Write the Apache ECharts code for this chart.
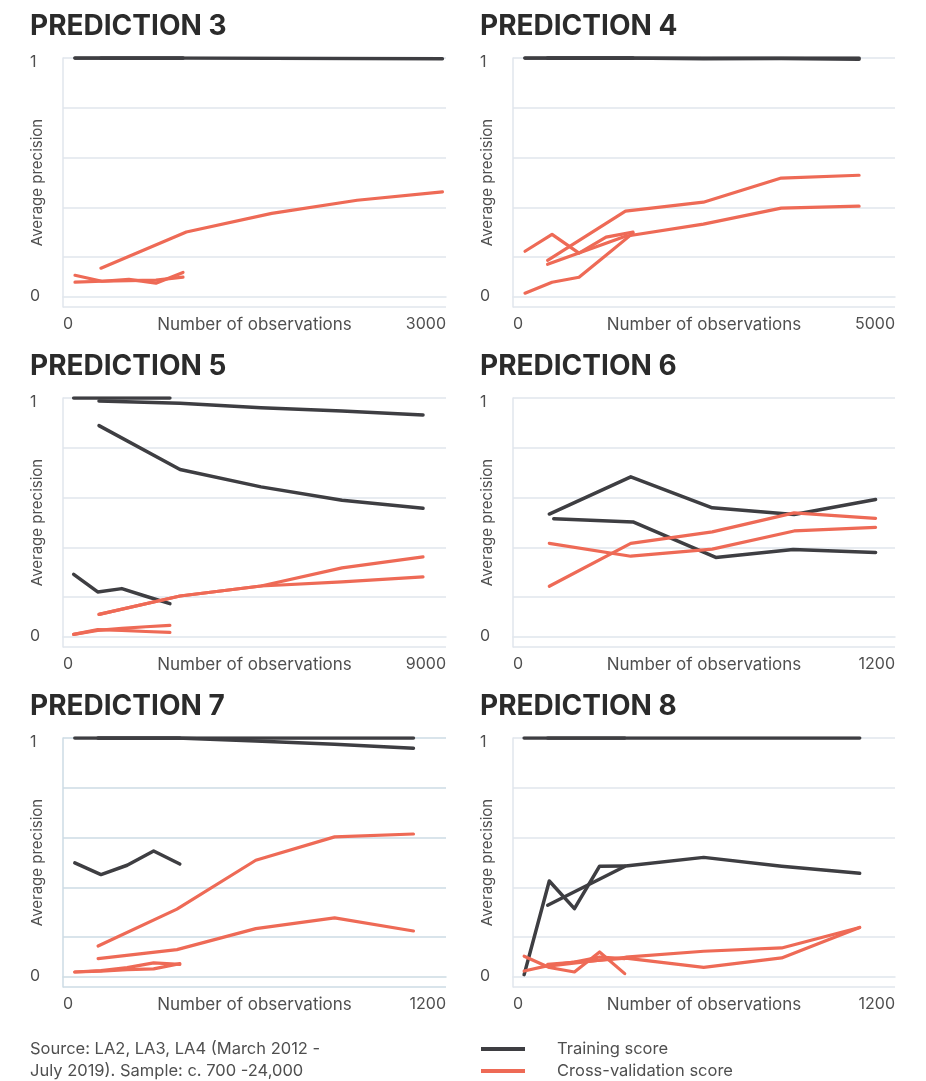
<!DOCTYPE html>
<html>
<head>
<meta charset="utf-8">
<title>Learning curves</title>
<script src="https://cdn.jsdelivr.net/npm/echarts@6/dist/echarts.min.js"></script>
<style>
  html, body { margin: 0; padding: 0; background: #fff; }
  #chart { width: 926px; height: 1081px; }
</style>
</head>
<body>
<div id="chart"></div>
<script>
// --- data: x = number of observations, y = average precision ---

// Prediction 3
const p3SmallX = [94, 305, 516, 728, 940];
const p3LargeX = [297, 966, 1635, 2304, 2972];
const p3TrainSmallA = [1, 1, 1, 1, 1];
const p3TrainSmallB = [1, 1, 1, 1, 1];
const p3TrainLarge = [1, 1, 0.999, 0.998, 0.997];
const p3CvSmallA = [0.088, 0.063, 0.071, 0.055, 0.1];
const p3CvSmallB = [0.059, 0.063, 0.066, 0.068, 0.08];
const p3CvLarge = [0.118, 0.27, 0.348, 0.403, 0.438];

// Prediction 4
const p4SmallX = [157, 511, 864, 1218, 1571];
const p4LargeX = [453, 1472, 2492, 3511, 4530];
const p4TrainSmallA = [1, 1, 1, 1, 1];
const p4TrainSmallB = [1, 1, 1, 1, 1];
const p4TrainLargeA = [1, 1, 1, 1, 1];
const p4TrainLargeB = [1, 1, 0.997, 0.998, 0.995];
const p4CvSmallA = [0.189, 0.26, 0.181, 0.248, 0.269];
const p4CvSmallB = [0.013, 0.059, 0.08, 0.172, 0.265];
const p4CvLargeA = [0.151, 0.357, 0.395, 0.496, 0.508];
const p4CvLargeB = [0.134, 0.252, 0.303, 0.37, 0.378];

// Prediction 5
const p5SmallX = [251, 816, 1382, 1947, 2512];
const p5LargeX = [846, 2750, 4653, 6557, 8460];
const p5TrainSmallA = [1, 1, 1, 1, 1];
const p5TrainSmallB = [0.26, 0.186, 0.2, 0.168, 0.137];
const p5TrainLargeA = [0.987, 0.978, 0.959, 0.945, 0.929];
const p5TrainLargeB = [0.884, 0.7, 0.627, 0.571, 0.537];
const p5CvSmallA = [0.008, 0.025, 0.033, 0.04, 0.046];
const p5CvSmallB = [0.008, 0.028, 0.025, 0.02, 0.016];
const p5CvLargeA = [0.092, 0.169, 0.211, 0.287, 0.333];
const p5CvLargeB = [0.092, 0.169, 0.211, 0.228, 0.249];

// Prediction 6
const p6XA = [114, 370, 626, 883, 1139];
const p6XB = [128, 377, 637, 880, 1139];
const p6TrainA = [0.513, 0.669, 0.539, 0.511, 0.574];
const p6TrainB = [0.493, 0.48, 0.331, 0.364, 0.352];
const p6CvA = [0.39, 0.336, 0.366, 0.442, 0.457];
const p6CvB = [0.21, 0.39, 0.438, 0.518, 0.495];

// Prediction 7
const p7SmallX = [37, 119, 201, 284, 366];
const p7LargeX = [110, 357, 604, 851, 1098];
const p7TrainSmallA = [1, 1, 1, 1, 1];
const p7TrainSmallB = [0.476, 0.427, 0.466, 0.526, 0.471];
const p7TrainLargeA = [1, 1, 1, 1, 1];
const p7TrainLargeB = [1, 1, 0.987, 0.974, 0.957];
const p7CvSmallA = [0.018, 0.024, 0.036, 0.056, 0.05];
const p7CvSmallB = [0.018, 0.022, 0.028, 0.031, 0.053];
const p7CvLargeA = [0.127, 0.282, 0.487, 0.585, 0.597];
const p7CvLargeB = [0.074, 0.112, 0.2, 0.245, 0.19];

// Prediction 8
const p8SmallX = [35, 114, 193, 272, 351];
const p8LargeX = [109, 354, 599, 844, 1089];
const p8TrainSmallA = [1, 1, 1, 1, 1];
const p8TrainSmallB = [0.007, 0.4, 0.284, 0.462, 0.463];
const p8TrainLargeA = [1, 1, 1, 1, 1];
const p8TrainLargeB = [0.298, 0.463, 0.499, 0.462, 0.432];
const p8CvSmallA = [0.084, 0.037, 0.018, 0.102, 0.011];
const p8CvSmallB = [0.022, 0.046, 0.06, 0.081, 0.074];
const p8CvLargeA = [0.05, 0.076, 0.037, 0.077, 0.205];
const p8CvLargeB = [0.042, 0.08, 0.105, 0.119, 0.205];

const panelTitles = ['PREDICTION 3', 'PREDICTION 4', 'PREDICTION 5', 'PREDICTION 6', 'PREDICTION 7', 'PREDICTION 8'];
const xMaxes = [3000, 5000, 9000, 1200, 1200, 1200];
const yLabelValues = [0, 1];
const yGridValues = [-0.045, 0.164, 0.373, 0.582, 0.791, 1];

const TRAIN = 'Training score';
const CV = 'Cross-validation score';
const BLACK = '#3e3e42';
const ORANGE = '#ee6a56';
const TEXT = '#4f4f4f';
const FONT = 'Inter, Roboto, sans-serif';

// [panel, name, xs, ys]
const curves = [
  [0, TRAIN, p3SmallX, p3TrainSmallA], [0, TRAIN, p3SmallX, p3TrainSmallB], [0, TRAIN, p3LargeX, p3TrainLarge],
  [0, CV, p3SmallX, p3CvSmallA], [0, CV, p3SmallX, p3CvSmallB], [0, CV, p3LargeX, p3CvLarge],

  [1, TRAIN, p4SmallX, p4TrainSmallA], [1, TRAIN, p4SmallX, p4TrainSmallB],
  [1, TRAIN, p4LargeX, p4TrainLargeA], [1, TRAIN, p4LargeX, p4TrainLargeB],
  [1, CV, p4SmallX, p4CvSmallA], [1, CV, p4SmallX, p4CvSmallB],
  [1, CV, p4LargeX, p4CvLargeA], [1, CV, p4LargeX, p4CvLargeB],

  [2, TRAIN, p5SmallX, p5TrainSmallA], [2, TRAIN, p5SmallX, p5TrainSmallB],
  [2, TRAIN, p5LargeX, p5TrainLargeA], [2, TRAIN, p5LargeX, p5TrainLargeB],
  [2, CV, p5SmallX, p5CvSmallA], [2, CV, p5SmallX, p5CvSmallB],
  [2, CV, p5LargeX, p5CvLargeA], [2, CV, p5LargeX, p5CvLargeB],

  [3, TRAIN, p6XA, p6TrainA], [3, TRAIN, p6XB, p6TrainB],
  [3, CV, p6XA, p6CvA], [3, CV, p6XA, p6CvB],

  [4, TRAIN, p7SmallX, p7TrainSmallA], [4, TRAIN, p7SmallX, p7TrainSmallB],
  [4, TRAIN, p7LargeX, p7TrainLargeA], [4, TRAIN, p7LargeX, p7TrainLargeB],
  [4, CV, p7SmallX, p7CvSmallA], [4, CV, p7SmallX, p7CvSmallB],
  [4, CV, p7LargeX, p7CvLargeA], [4, CV, p7LargeX, p7CvLargeB],

  [5, TRAIN, p8SmallX, p8TrainSmallA], [5, TRAIN, p8SmallX, p8TrainSmallB],
  [5, TRAIN, p8LargeX, p8TrainLargeA], [5, TRAIN, p8LargeX, p8TrainLargeB],
  [5, CV, p8SmallX, p8CvSmallA], [5, CV, p8SmallX, p8CvSmallB],
  [5, CV, p8LargeX, p8CvLargeA], [5, CV, p8LargeX, p8CvLargeB],
];

// panel placement: two columns, three rows
const colLeft = [63, 513];
const colWidth = [383, 382];
const rowTop = [58, 398, 738];
const titleLeft = [30, 480];
const titleTop = [16, 356, 696];

function gridColor(i) {
  return i === 4 ? '#cddbe4' : '#e0e6ed';
}

const chart = echarts.init(document.getElementById('chart'), null, { renderer: 'canvas' });

const titles = panelTitles.map((t, i) => ({
  text: t,
  left: titleLeft[i % 2],
  top: titleTop[Math.floor(i / 2)],
  padding: 0,
  textStyle: { fontFamily: 'Inter, Roboto, sans-serif', fontWeight: 700, fontSize: 28, lineHeight: 22, color: '#2b2b2b' }
}));
titles.push({
  text: 'Source: LA2, LA3, LA4 (March 2012 -\nJuly 2019). Sample: c. 700 -24,000',
  left: 30,
  top: 1038,
  padding: 0,
  textStyle: { fontFamily: FONT, fontWeight: 400, fontSize: 16.5, lineHeight: 22, color: TEXT }
});

const option = {
  backgroundColor: '#fff',
  animation: false,
  title: titles,
  legend: {
    data: [TRAIN, CV],
    orient: 'vertical',
    left: 481,
    top: 1040,
    padding: 0,
    itemGap: 4,
    icon: 'rect',
    itemWidth: 44,
    itemHeight: 4,
    selectedMode: false,
    textStyle: { fontFamily: FONT, fontSize: 16.5, color: TEXT, padding: [0, 0, 0, 27], lineHeight: 18 }
  },
  grid: panelTitles.map((t, i) => ({
    left: colLeft[i % 2],
    width: colWidth[i % 2],
    top: rowTop[Math.floor(i / 2)],
    height: 249
  })),
  xAxis: panelTitles.map((t, i) => ({
    gridIndex: i,
    type: 'value',
    min: 0,
    max: xMaxes[i],
    interval: xMaxes[i],
    name: 'Number of observations',
    nameLocation: 'middle',
    nameGap: 9,
    nameMoveOverlap: false,
    nameTextStyle: { fontFamily: FONT, fontSize: 17, color: TEXT, verticalAlign: 'top' },
    axisLine: { show: true, lineStyle: { color: gridColor(i), width: 1.5 } },
    axisTick: { show: false },
    splitLine: { show: false },
    axisLabel: {
      margin: 9, fontFamily: FONT, fontSize: 16, color: TEXT,
      alignMinLabel: 'left', alignMaxLabel: 'right',
      formatter: (v) => String(v)
    }
  })),
  yAxis: panelTitles.map((t, i) => ({
    gridIndex: i,
    type: 'value',
    min: -0.045,
    max: 1,
    name: 'Average precision',
    nameLocation: 'middle',
    nameRotate: 90,
    nameGap: 18,
    nameMoveOverlap: false,
    nameTextStyle: { fontFamily: FONT, fontSize: 15, color: TEXT },
    axisLine: { show: true, lineStyle: { color: gridColor(i), width: 1.5 } },
    axisTick: { show: false, customValues: yGridValues },
    splitLine: { show: true, lineStyle: { color: gridColor(i), width: 1.5 } },
    axisLabel: {
      customValues: yLabelValues, align: 'left', margin: 33,
      fontFamily: FONT, fontSize: 16, color: TEXT,
      formatter: (v) => (v === 1 ? '{one|1}' : '{zero|0}'),
      rich: {
        one: { fontFamily: FONT, fontSize: 16, color: TEXT, padding: [9, 0, 0, 0] },
        zero: { fontFamily: FONT, fontSize: 16, color: TEXT }
      }
    }
  })),
  series: curves.map(([p, name, xs, ys]) => {
    const color = name === TRAIN ? BLACK : ORANGE;
    return {
      name: name,
      type: 'line',
      xAxisIndex: p,
      yAxisIndex: p,
      data: xs.map((x, k) => [x, ys[k]]),
      showSymbol: false,
      silent: true,
      itemStyle: { color: color },
      lineStyle: { color: color, width: name === TRAIN ? 3.5 : 3.2, cap: 'round', join: 'round' }
    };
  })
};

chart.setOption(option);
</script>
</body>
</html>
